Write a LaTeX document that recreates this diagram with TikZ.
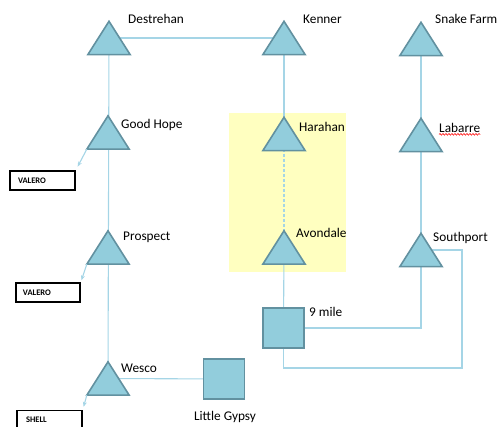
\documentclass[tikz,border=0pt]{standalone}
\usepackage{fontspec}
\setmainfont{Carlito}
\usetikzlibrary{backgrounds,arrows.meta,decorations.pathmorphing}
\definecolor{shapefill}{RGB}{146,205,220}
\definecolor{shapeline}{RGB}{98,145,160}
\definecolor{conn}{RGB}{165,213,230}
\definecolor{hilite}{RGB}{255,255,192}
\tikzset{
  tri/.style={minimum width=42pt, minimum height=33pt, inner sep=0pt},
  trishape/.style={draw=shapeline, fill=shapefill, line width=1.6pt, line join=miter},
  sq/.style={draw=shapeline, fill=shapefill, line width=1.6pt, minimum width=41pt, minimum height=40pt, inner sep=0pt},
  lbl/.style={font=\fontsize{13.3}{15}\selectfont, inner sep=0pt, anchor=west},
  refbox/.style={draw=black, line width=1.6pt, minimum height=19pt, inner ysep=0pt,
    font=\fontsize{8.5}{10}\selectfont\bfseries, align=left},
  link/.style={draw=conn, line width=1.1pt},
  arr/.style={draw=conn, line width=1.1pt, -{Stealth[length=5pt,width=4pt]}},
}
\begin{document}
\begin{tikzpicture}[x=1pt,y=-1pt]
\useasboundingbox (0,0) rectangle (498,427);
% triangles
\node[tri] (D) at (109,38) {};
\node[tri] (K) at (284,38) {};
\node[tri] (SF) at (421,39) {};
\node[tri] (GH) at (108,132.5) {};
\node[tri] (H) at (284,134) {};
\node[tri] (L) at (421,135) {};
\node[tri] (P) at (108,247.5) {};
\node[tri] (A) at (284,247.5) {};
\node[tri] (S) at (421,250) {};
\node[tri] (W) at (108,378.5) {};
\foreach \n in {D,K,SF,GH,H,L,P,A,S,W}
  \draw[trishape] (\n.south west) -- (\n.north) -- (\n.south east) -- cycle;
% squares
\node[sq] (N) at (283.5,328) {};
\node[sq] (LG) at (224,379) {};
% labels
\node[lbl] (tD) at (128,19) {Destrehan};
\node[lbl] (tK) at (303,19) {Kenner};
\node[lbl] (tSF) at (435,19) {Snake Farm};
\node[lbl] (tGH) at (121,125) {Good Hope};
\node[lbl] (tP) at (123,237) {Prospect};
\node[lbl] (tW) at (121,368) {Wesco};
\node[lbl, anchor=center] (tLG) at (225,417) {Little Gypsy};
\node[lbl] (tH) at (299,127) {Harahan};
\node[lbl] (tA) at (296,233) {Avondale};
\node[lbl] (tN) at (309,312) {9 mile};
\node[lbl] (tL) at (439,128) {Labarre};
\node[lbl] (tS) at (433,238) {Southport};
\draw[red, line width=0.6pt, decorate, decoration={snake, amplitude=0.8pt, segment length=3pt}]
  ([yshift=-1.5pt]tL.south west) -- ([yshift=-1.5pt]tL.south east);
% refinery boxes
\node[refbox, minimum width=65pt, text width=49pt, inner xsep=8pt] (V1) at (42.5,180.5) {VALERO};
\node[refbox, minimum width=64pt, text width=50pt, inner xsep=7pt] (V2) at (48,292.5) {VALERO};
\node[refbox, minimum width=65pt, text width=47pt, inner xsep=9pt] (SH) at (49.5,420) {SHELL};
% arrows
\draw[arr, shorten >=4pt] (GH.south west) -- (V1.north east);
\draw[arr, shorten >=2pt] (P.south west) -- (V2.north east);
\draw[arr, shorten >=3pt] (W.south west) -- (SH.north east);
\coordinate (loop) at (462,368);
\begin{scope}[on background layer]
  \fill[hilite] (229,113) rectangle (346,272);
  \draw[link] (D.center) -- (K.center);
  \draw[link] (D.center) -- (W.center);
  \draw[link] (W.center) -- (LG.center);
  \draw[link] (K.center) -- (H.center);
  \draw[link, dashed, dash pattern=on 3pt off 2pt] (H.center) -- (A.center);
  \draw[link] (A.center) -- (N.center);
  \draw[link] (SF.center) -- (L.center);
  \draw[link] (L.center) -- (S.center);
  \draw[link] (S.center) |- (N.center);
  \draw[link] (S.center) -| (loop) -| (N.center);
\end{scope}
\end{tikzpicture}
\end{document}
